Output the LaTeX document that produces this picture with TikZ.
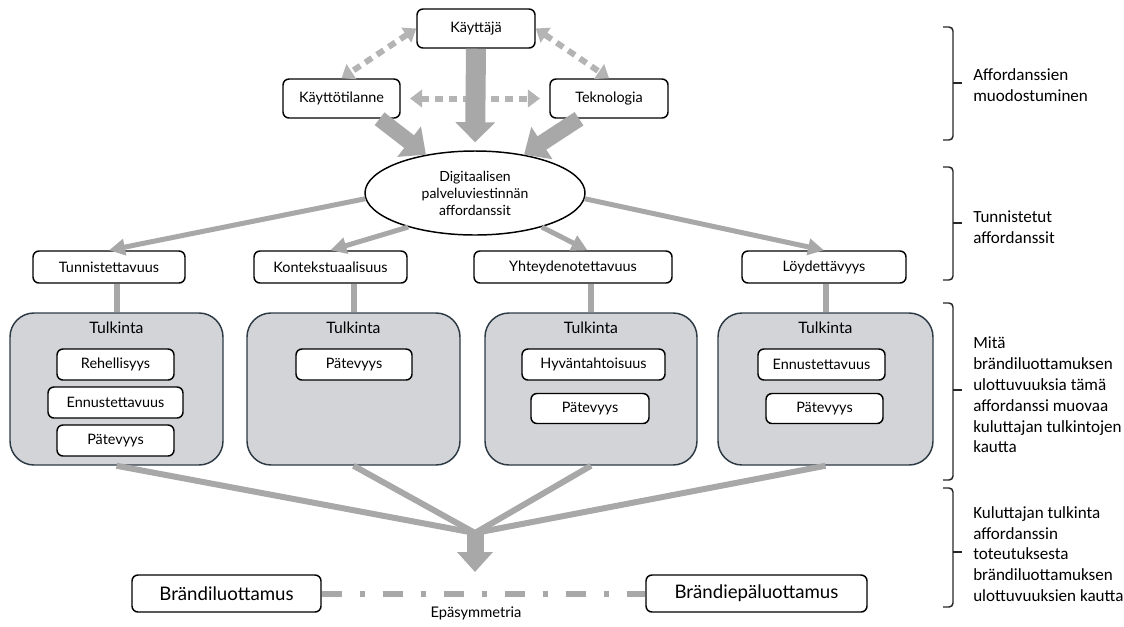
\documentclass[tikz,border=0pt]{standalone}
\usepackage{fontspec}
\setmainfont{Lato}
\newfontfamily\sidefont{Carlito}
\usetikzlibrary{arrows.meta,shapes.geometric,calc}
\definecolor{arrgray}{RGB}{168,168,168}
\definecolor{dotgray}{RGB}{180,180,180}
\definecolor{boxfill}{RGB}{210,212,215}
\definecolor{boxline}{RGB}{45,58,68}
\begin{document}
\begin{tikzpicture}[x=0.75pt,y=-0.75pt,
  sz/.style 2 args={minimum width=#1*0.75pt, minimum height=#2*0.75pt},
  wbox/.style={draw=black, line width=1.1pt, rounded corners=4.5pt, fill=white, inner sep=0pt},
  gbox/.style={draw=boxline, line width=1.1pt, rounded corners=18pt, fill=boxfill, inner sep=0pt},
  ftop/.style={font=\fontsize{10.8}{12.6}\selectfont},
  fin/.style={font=\fontsize{10.8}{12.6}\selectfont},
  ftul/.style={font=\fontsize{11.8}{13}\selectfont},
  fbig/.style={font=\fontsize{14}{16}\selectfont},
  fside/.style={font=\sidefont\fontsize{12.8}{15.6}\selectfont, align=left, anchor=west, inner sep=0pt},
  blockarr/.style={draw=arrgray, line width=#1, -{Triangle[width=28pt,length=16pt]}},
  thinarr/.style={draw=arrgray, line width=3.75pt, -{Triangle[width=12pt,length=12pt]}},
  conn/.style={draw=arrgray, line width=4.5pt},
  dotarr/.style={draw=dotgray, line width=4.5pt, dash pattern=on 6pt off 4.5pt,
     {Triangle[width=13pt,length=9pt]}-{Triangle[width=13pt,length=9pt]}},
  brace/.style={draw=black!85, line width=1.1pt, rounded corners=3pt}
]
\useasboundingbox (0,0) rectangle (1124,626);

% top level
\node[wbox,sz={118}{39},ftop] (kj) at (476,28.5) {Käyttäjä};
\node[wbox,sz={117}{39},ftop] (kt) at (341.5,98.5) {Käyttötilanne};
\node[wbox,sz={118}{39},ftop] (tk) at (609,98.5) {Teknologia};
\node[ellipse,draw=black,line width=1.1pt,fill=white,sz={220}{84},inner sep=0pt,align=center,
      font=\fontsize{10.5}{12.75}\selectfont] (ell) at (475,193) {Digitaalisen\\palveluviestinnän\\affordanssit};

% level 2
\node[wbox,sz={152}{32},ftop] (tu) at (109,267) {Tunnistettavuus};
\node[wbox,sz={153}{32},ftop] (ko) at (330.5,267) {Kontekstuaalisuus};
\node[wbox,sz={198}{32},ftop] (yh) at (573,267) {Yhteydenotettavuus};
\node[wbox,sz={164}{32},ftop] (lo) at (824,267) {Löydettävyys};

% grey boxes
\node[gbox,sz={213}{152}] (g1) at (116.5,389) {};
\node[gbox,sz={213}{152}] (g2) at (353.5,389) {};
\node[gbox,sz={212}{152}] (g3) at (591,389) {};
\node[gbox,sz={215}{152}] (g4) at (825.5,389) {};
\node[ftul] (t1) at (116.5,328) {Tulkinta};
\node[ftul] (t2) at (353.5,328) {Tulkinta};
\node[ftul] (t3) at (591,328) {Tulkinta};
\node[ftul] (t4) at (825.5,328) {Tulkinta};

\node[wbox,sz={117}{31},fin] (r1) at (115.5,364.5) {Rehellisyys};
\node[wbox,sz={135}{31},fin] (e1) at (115.5,402.5) {Ennustettavuus};
\node[wbox,sz={117}{31},fin] (p1) at (115.5,440.5) {Pätevyys};
\node[wbox,sz={116}{31},fin] (p2) at (354,364.5) {Pätevyys};
\node[wbox,sz={143}{31},fin] (h3) at (593.5,364.5) {Hyväntahtoisuus};
\node[wbox,sz={118}{30},fin] (p3) at (590,408.5) {Pätevyys};
\node[wbox,sz={127}{31},fin] (e4) at (821.5,364.5) {Ennustettavuus};
\node[wbox,sz={117}{30},fin] (p4) at (824.5,408.5) {Pätevyys};

% bottom
\node[wbox,sz={189}{37},fbig] (bl) at (226.5,593.5) {Brändiluottamus};
\node[wbox,sz={221}{37},fbig] (bp) at (756.5,593.5) {Brändiepäluottamus};
\node[font=\fontsize{11}{13}\selectfont] (ep) at (476,613) {Epäsymmetria};
\coordinate (conv) at (475,533);
\coordinate (tipb) at (475,572);

% connectors top
\draw[dotarr] (kj.west) -- (kt.north);
\draw[dotarr] (kj.east) -- (tk.north);
\draw[dotarr, shorten <=7pt, shorten >=7pt] (kt.east) -- (tk.west);
\draw[blockarr=15pt, -{Triangle[width=29pt,length=15pt]}, shorten >=6pt] (kj.south) -- (ell.north);
\draw[blockarr=12pt] (kt.-28) -- (ell.142);
\draw[blockarr=12pt] (tk.214) -- (ell.38);

% ellipse to level 2
\draw[thinarr] (ell.183) -- (tu.north);
\draw[thinarr] (ell.207) -- (ko.north);
\draw[thinarr] (ell.-27) -- (yh.49);
\draw[thinarr] (ell.-3) -- (lo.north);

% level 2 to grey boxes
\draw[conn] (g1.north |- tu.south) -- (g1.north);
\draw[conn] (g2.north |- ko.south) -- (g2.north);
\draw[conn] (g3.north |- yh.south) -- (g3.north);
\draw[conn] (g4.north |- lo.south) -- (g4.north);

% grey boxes to convergence
\draw[conn] (g1.south) -- (conv);
\draw[conn] (g2.south) -- (conv);
\draw[conn] (g3.south) -- (conv);
\draw[conn] (g4.south) -- (conv);
\draw[blockarr=12.75pt, -{Triangle[width=26pt,length=15pt]}] (conv) -- (tipb);

% dash-dot
\draw[draw=arrgray, line width=4.5pt, dash pattern=on 15pt off 13.5pt on 3.75pt off 13.5pt] (bl.east) -- (bp.west);

% braces
\draw[brace] (943,27) -- (953,27) -- (953,140) -- (943,140);
\draw[brace] (953,83) -- (962,83);
\draw[brace] (943,167) -- (953,167) -- (953,280) -- (943,280);
\draw[brace] (953,223) -- (962,223);
\draw[brace] (943,303) -- (953,303) -- (953,480) -- (943,480);
\draw[brace] (953,390) -- (962,390);
\draw[brace] (943,488) -- (953,488) -- (953,607) -- (943,607);
\draw[brace] (953,552) -- (962,552);

\node[fside] (s1) at (973,85) {Affordanssien\\muodostuminen};
\node[fside] (s2) at (973,227) {Tunnistetut\\affordanssit};
\node[fside] (s3) at (973,395) {Mitä\\brändiluottamuksen\\ulottuvuuksia tämä\\affordanssi muovaa\\kuluttajan tulkintojen\\kautta};
\node[fside] (s4) at (973,554) {Kuluttajan tulkinta\\affordanssin\\toteutuksesta\\brändiluottamuksen\\ulottuvuuksien kautta};
\end{tikzpicture}
\end{document}
